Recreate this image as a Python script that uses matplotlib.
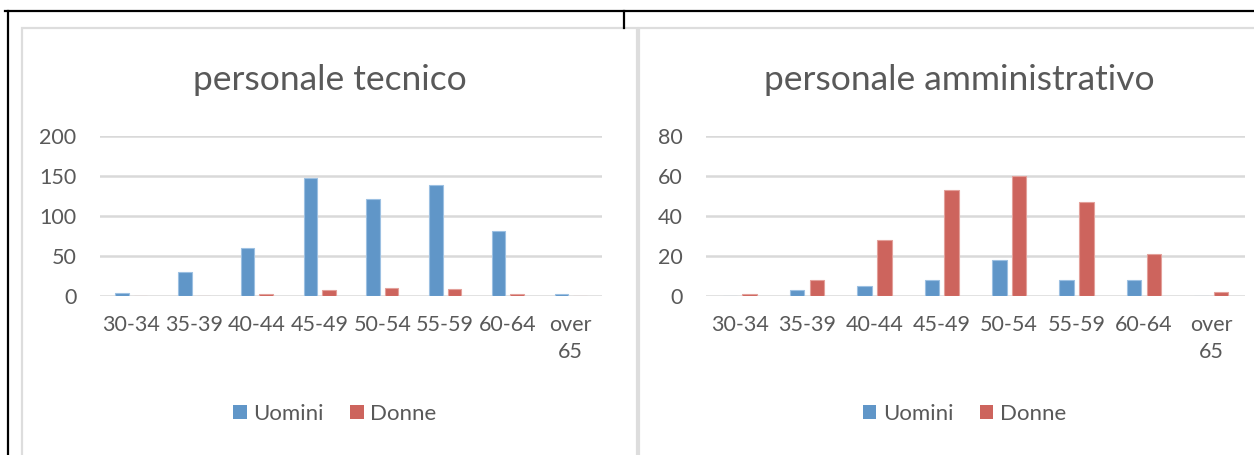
import matplotlib
matplotlib.use("Agg")
import matplotlib.pyplot as plt
from matplotlib.patches import Patch, Rectangle
from matplotlib.lines import Line2D
import numpy as np

# age bands and head counts per staff group
categories = ['30-34', '35-39', '40-44', '45-49', '50-54', '55-59', '60-64', 'over\n65']
tecnico_uomini = [3, 29, 59, 147, 121, 139, 81, 2]
tecnico_donne = [0, 0, 2, 7, 9, 8, 2, 0]
amm_uomini = [0, 3, 5, 8, 18, 8, 8, 0]
amm_donne = [1, 8, 28, 53, 60, 47, 21, 2]

series_names = ['Uomini', 'Donne']
blue = '#6096C8'
red = '#CD645D'
text_col = '#595959'
grid_col = '#D9D9D9'

plt.rcParams['font.family'] = ['Lato', 'DejaVu Sans']

W, H = 1254, 455
fig = plt.figure(figsize=(W / 100, H / 100), dpi=100)


def fx(x):
    return x / W


def fy(y):
    return 1 - y / H


# table borders and the two chart frames
fig.add_artist(Line2D([fx(5), fx(W)], [fy(11), fy(11)], color='black', lw=1.6))
fig.add_artist(Line2D([fx(8), fx(8)], [fy(11), fy(H)], color='black', lw=1.6))
fig.add_artist(Line2D([fx(624), fx(624)], [fy(11), fy(28)], color='black', lw=1.6))
fig.add_artist(Rectangle((fx(22), fy(470)), fx(637 - 22), fy(28) - fy(470),
                         fill=False, edgecolor='#DDDDDD', lw=1.6))
fig.add_artist(Rectangle((fx(639), fy(470)), fx(700), fy(28) - fy(470),
                         fill=False, edgecolor='#DDDDDD', lw=1.6))


def draw_panel(left, right, title, title_x, uomini, donne, ymax, step, legend_x):
    ax = fig.add_axes([fx(left), fy(295.5), fx(right - left), fy(136) - fy(295.5)])
    x = np.arange(len(categories))
    bw = 0.215
    off = 0.147
    ax.bar(x - off, uomini, bw, color=blue, edgecolor='#9CC0E2', lw=0.8, zorder=3)
    ax.bar(x + off, donne, bw, color=red, edgecolor='#E3A09A', lw=0.8, zorder=3)
    ax.set_xlim(-0.5, len(categories) - 0.5)
    ax.set_ylim(0, ymax)
    ax.set_yticks(np.arange(0, ymax + 1, step))
    ax.set_xticks(x)
    ax.set_xticklabels(categories, linespacing=1.45)
    ax.yaxis.grid(True, color=grid_col, lw=1.8, zorder=0)
    ax.set_axisbelow(True)
    for s in ax.spines.values():
        s.set_visible(False)
    ax.tick_params(axis='both', length=0, labelsize=15.5, labelcolor=text_col)
    ax.tick_params(axis='y', pad=17)
    ax.tick_params(axis='x', pad=14)
    fig.text(fx(title_x), fy(80), title, ha='center', va='center',
             fontsize=25.5, color=text_col)
    handles = [Patch(facecolor=blue), Patch(facecolor=red)]
    fig.legend(handles, series_names, loc='center', ncol=2,
               bbox_to_anchor=(fx(legend_x), fy(414)), frameon=False,
               fontsize=16, labelcolor=text_col, handlelength=0.6,
               handleheight=0.6, handletextpad=0.3, columnspacing=1.2)
    return ax


draw_panel(100, 602, 'personale tecnico', 329.5, tecnico_uomini, tecnico_donne,
           200, 50, 335)
draw_panel(706, 1245, 'personale amministrativo', 959.5, amm_uomini, amm_donne,
           80, 20, 964.5)

fig.savefig('out.png', dpi=100)
